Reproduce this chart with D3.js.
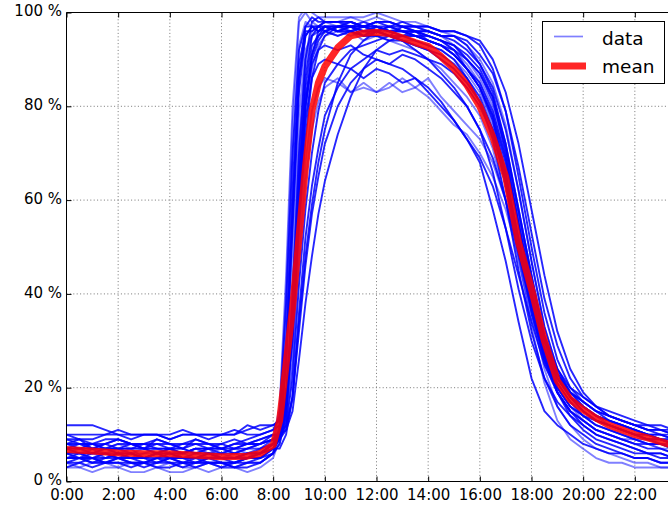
<!DOCTYPE html>
<html>
<head>
<meta charset="utf-8">
<script src="https://cdn.jsdelivr.net/npm/d3@7"></script>
<style>
html, body { margin: 0; padding: 0; background: #fff; }
svg { display: block; }
text { font-family: "DejaVu Sans", sans-serif; fill: #000; }
</style>
</head>
<body>
<svg id="chart" width="668" height="512"></svg>
<script>
// ---------- DATA ----------
// sample times (hours) for each daily profile
const hours = [0,0.5,1,1.5,2,2.5,3,3.5,4,4.5,5,5.5,6,6.5,7,7.5,8,
  8.25,8.5,8.75,9,9.25,9.5,9.75,10,
  10.5,11,11.5,12,12.5,13,13.5,14,14.5,15,15.5,16,16.5,17,17.5,18,18.5,19,19.5,20,20.5,21,21.5,22,22.5,23,23.5,24];

const day01 = [7,6,6,7,6,6,5,6,6,5,5,6,5,5,6,6,8, 10,26,56,86,97,99,98,98,
  98,97,97,98,97,97,96,96,95,95,93,89,83,72,58,44,30,22,18,16,14,13,12,11,10,9,8,8];
const day02 = [8,8,7,7,8,7,7,6,7,7,6,6,7,6,7,7,9, 16,44,80,99,101,100,99,99,
  99,99,98,99,98,97,97,96,95,93,90,86,80,69,54,40,28,21,17,15,13,12,11,10,10,9,9,8];
const day03 = [5,5,4,5,5,4,4,5,4,4,5,4,4,4,5,5,6, 8,14,32,60,80,91,95,97,
  97,97,97,96,97,96,96,95,94,92,88,84,77,66,51,37,26,19,15,13,11,10,9,8,7,7,6,6];
const day04 = [9,9,8,9,9,8,8,9,8,8,9,8,8,9,8,9,10, 10,12,18,32,46,57,65,72,
  80,85,88,90,89,91,90,88,86,83,80,75,69,60,49,38,28,22,18,16,14,13,12,11,10,10,9,9];
const day05 = [6,7,6,6,7,6,6,7,6,6,7,6,6,7,6,7,8, 9,13,26,50,68,79,84,86,
  85,83,85,83,84,86,84,82,79,76,74,70,65,58,48,37,27,20,16,14,12,11,10,9,8,8,7,7];
const day06 = [4,4,5,4,4,4,3,4,4,3,4,4,3,4,4,4,6, 12,30,62,89,96,96,97,97,
  96,97,96,96,95,94,92,90,87,84,80,75,66,54,41,30,22,17,14,12,10,9,8,7,6,6,5,5];
const day07 = [12,12,12,11,10,10,10,10,10,11,10,10,10,10,11,12,12, 13,18,30,54,73,86,92,95,
  97,96,97,97,96,96,95,94,93,91,88,84,78,68,55,42,31,24,20,18,16,15,14,13,12,12,11,11];
const day08 = [3,3,2,3,3,2,2,3,2,2,3,2,3,3,2,3,5, 9,18,42,72,90,96,97,98,
  97,98,97,97,96,97,96,95,94,92,89,85,78,65,50,36,24,16,12,9,7,6,5,4,4,3,3,3];
const day09 = [7,7,8,7,7,7,8,7,7,6,7,7,6,7,7,8,9, 9,11,18,34,48,59,68,75,
  85,91,94,96,95,97,96,96,95,94,92,89,84,75,62,47,33,24,19,16,14,13,12,11,10,10,9,9];
const day10 = [5,6,5,5,6,5,5,6,5,5,5,6,5,5,5,6,7, 9,15,32,58,77,86,89,90,
  89,88,86,88,87,85,86,83,80,77,73,69,63,54,44,34,25,19,15,12,10,9,8,7,6,6,5,5];
const day11 = [6,6,5,6,6,5,6,6,5,5,6,6,5,5,5,6,8, 13,34,68,93,98,97,97,98,
  98,99,99,100,99,98,98,97,96,95,93,90,85,76,62,47,33,24,19,16,14,12,11,10,9,8,8,7];
const day12 = [8,7,7,8,7,7,7,6,7,7,6,7,7,6,7,8,9, 9,12,22,42,58,70,79,85,
  89,92,93,94,95,94,93,92,90,88,85,81,75,65,52,40,29,22,18,15,13,12,11,10,9,9,8,8];
const day13 = [4,5,4,4,5,4,4,4,5,4,4,4,4,3,4,5,7, 11,25,54,83,95,97,97,96,
  97,97,96,97,96,96,95,95,94,93,91,88,82,70,55,40,27,19,14,11,9,8,7,6,6,5,5,5];
const day14 = [6,6,7,6,6,6,5,6,6,6,5,6,6,5,6,7,8, 9,13,24,46,64,75,81,84,
  86,83,84,83,85,83,84,86,82,79,76,73,68,60,49,37,26,19,15,13,11,10,9,8,8,7,7,6];
const day15 = [9,8,8,8,9,8,8,8,7,8,8,8,7,8,8,9,10, 10,11,15,26,38,48,57,64,
  74,82,88,92,94,95,95,94,93,91,88,85,79,69,55,41,30,23,19,17,15,14,13,12,11,11,10,10];
const day16 = [5,5,5,6,5,5,5,4,5,5,4,5,5,4,5,6,7, 9,17,40,70,90,98,99,98,
  98,98,97,98,98,97,97,97,96,96,95,93,88,79,65,50,36,26,20,17,15,13,12,11,10,9,8,8];
const day17 = [7,7,6,7,7,6,7,7,6,6,7,6,6,6,7,7,8, 9,14,30,56,76,88,93,95,
  96,95,96,95,95,94,94,93,92,90,87,83,76,65,51,38,27,20,16,14,12,11,10,9,9,8,8,7];
const day18 = [6,5,6,6,5,6,5,5,6,5,5,5,5,5,6,6,8, 10,16,34,60,80,89,92,93,
  92,93,91,90,89,88,86,84,81,77,73,68,58,47,34,22,15,12,10,8,7,6,6,5,5,4,4,4];
const day19 = [7,8,7,7,7,8,7,7,7,6,7,7,7,7,8,8,10, 9,16,36,65,86,95,97,98,
  98,98,97,98,98,97,97,97,96,96,95,94,90,83,72,58,44,32,24,19,16,14,13,12,11,10,10,9];
const day20 = [4,3,4,4,3,4,4,3,4,3,3,4,3,3,4,4,6, 8,16,38,68,88,95,96,97,
  96,96,97,96,96,95,95,94,93,91,88,84,77,64,48,33,21,13,9,7,5,4,4,3,3,3,3,3];
const day21 = [8,8,8,7,8,8,7,8,8,7,8,7,8,7,8,8,9, 10,17,36,64,84,93,95,96,
  95,96,95,95,94,94,93,92,91,89,86,82,75,63,49,36,26,20,16,14,13,12,11,10,10,9,9,8];
const day22 = [5,5,5,4,5,5,4,5,5,4,4,5,4,4,5,5,7, 7,10,18,36,52,63,71,78,
  84,88,90,92,91,92,91,90,89,87,84,80,74,64,51,39,28,21,17,14,12,11,10,9,8,8,7,7];
const day23 = [6,6,6,5,6,6,5,6,5,6,6,5,6,6,6,6,8, 15,40,76,98,100,98,97,97,
  97,97,97,97,96,96,95,94,93,91,88,84,78,67,52,38,27,20,16,13,11,10,9,9,8,8,7,7];
const day24 = [10,10,10,10,11,10,10,10,9,10,10,10,10,11,10,10,11, 12,18,34,60,80,91,96,97,
  97,97,98,97,97,96,96,95,94,93,90,87,81,71,57,43,31,23,19,17,15,14,13,12,12,11,11,10];
const day25 = [8,9,7,8,9,8,7,9,8,7,9,8,7,8,9,10,11, 14,38,70,92,97,97,96,97,
  96,97,95,97,96,95,96,94,93,92,90,87,82,72,58,44,31,23,18,15,13,12,11,10,9,9,8,8];
const day26 = [6,5,7,5,6,7,5,6,7,5,6,7,5,6,5,7,9, 11,24,50,78,92,95,96,96,
  95,96,94,95,94,93,92,90,88,85,82,78,71,60,47,35,25,19,15,13,11,10,9,8,8,7,6,6];
const day27 = [10,9,9,10,10,9,10,10,9,10,10,9,10,10,12,11,12, 13,20,36,62,82,90,94,96,
  97,98,97,96,97,98,97,96,95,95,94,91,87,79,67,53,39,29,22,18,16,14,13,12,11,11,10,10];
const day28 = [3,4,3,4,4,3,4,3,3,4,3,4,4,3,3,4,6, 10,26,58,86,95,97,96,97,
  96,96,95,96,95,95,94,93,92,90,86,81,73,60,45,32,22,16,12,10,8,7,6,5,5,4,4,4];

const dailySeries = [day01,day02,day03,day04,day05,day06,day07,day08,day09,day10,day11,day12,day13,day14,
  day15,day16,day17,day18,day19,day20,day21,day22,day23,day24,day25,day26,day27,day28];

const meanHours = [0,1,2,3,4,5,6,7,7.5,8,8.25,8.5,8.75,9,9.25,9.5,9.75,10,
  10.5,11,11.5,12,12.5,13,13.5,14,14.5,15,15.5,16,16.5,17,17.5,18,18.5,19,19.5,20,20.5,21,21.5,22,22.5,23,23.5,24];
const meanValues = [6.8,6.5,6.1,5.9,5.9,5.6,5.3,5.4,6.0,7.8,13,25,37,52,67,79,85,88.5,
  92.5,95,95.6,95.8,95.5,94.6,93.6,92.8,90.6,88,84.5,80,73.5,65,51,41,30,21.5,17.5,15.3,13.5,12,11,10,9.3,8.5,7.6,7];

const xTicks = [0,2,4,6,8,10,12,14,16,18,20,22];
const xTickLabels = ["0:00","2:00","4:00","6:00","8:00","10:00","12:00","14:00","16:00","18:00","20:00","22:00"];
const yTicks = [0,20,40,60,80,100];
const yTickLabels = ["0 %","20 %","40 %","60 %","80 %","100 %"];
const legendLabels = ["data","mean"];

// ---------- DRAW ----------
const svg = d3.select("#chart");
const L = 66.5, R = 686.5, T = 12.5, B = 481.5;
const x = d3.scaleLinear().domain([0,24]).range([L,R]);
const y = d3.scaleLinear().domain([0,100]).range([B,T]);

svg.append("defs").append("clipPath").attr("id","plotclip")
  .append("rect").attr("x",L).attr("y",T).attr("width",R-L).attr("height",B-T);

// grid
const grid = svg.append("g").attr("stroke","#444").attr("stroke-width",0.9)
  .attr("stroke-dasharray","1,2.4").attr("opacity",0.8);
grid.selectAll("line.gx").data(xTicks.filter(d => d > 0)).join("line")
  .attr("class","gx").attr("x1",d=>x(d)).attr("x2",d=>x(d)).attr("y1",T).attr("y2",B);
grid.selectAll("line.gy").data(yTicks.filter(d => d > 0 && d < 100)).join("line")
  .attr("class","gy").attr("x1",L).attr("x2",R).attr("y1",d=>y(d)).attr("y2",d=>y(d));

// data lines
const plot = svg.append("g").attr("clip-path","url(#plotclip)");
const line = d3.line().x((d,i)=>x(hours[i])).y(d=>y(d));
plot.selectAll("path.day").data(dailySeries).join("path")
  .attr("class","day")
  .attr("d", d => line(d))
  .attr("fill","none")
  .attr("stroke","#0000ff")
  .attr("stroke-width",1.9)
  .attr("stroke-linejoin","round")
  .attr("stroke-opacity",(d,i)=> (i % 3 === 1 ? 0.5 : 0.85));

// mean line
const meanLine = d3.line().x((d,i)=>x(meanHours[i])).y(d=>y(d));
plot.append("path").datum(meanValues)
  .attr("d", meanLine)
  .attr("fill","none")
  .attr("stroke","#ff0000")
  .attr("stroke-opacity",0.85)
  .attr("stroke-width",7)
  .attr("stroke-linejoin","round");

// frame
const frame = svg.append("g").attr("stroke","#000").attr("stroke-width",1);
frame.append("line").attr("x1",L).attr("x2",L).attr("y1",T).attr("y2",B);
frame.append("line").attr("x1",L).attr("x2",R).attr("y1",B).attr("y2",B);
frame.append("line").attr("x1",L).attr("x2",R).attr("y1",T).attr("y2",T);
frame.append("line").attr("x1",R).attr("x2",R).attr("y1",T).attr("y2",B);

// axes
const fontFam = "DejaVu Sans";
const xAxis = d3.axisBottom(x).tickValues(xTicks).tickFormat((d,i)=>xTickLabels[i])
  .tickSizeInner(-5).tickSizeOuter(0).tickPadding(8);
const gx = svg.append("g").attr("transform",`translate(0,${B})`).call(xAxis);
gx.select(".domain").remove();
gx.selectAll("text").attr("font-family",fontFam).attr("font-size",15).attr("fill","#000");
gx.selectAll("line").attr("stroke","#000");

const xTop = d3.axisTop(x).tickValues(xTicks).tickFormat("").tickSizeInner(-5).tickSizeOuter(0);
const gt = svg.append("g").attr("transform",`translate(0,${T})`).call(xTop);
gt.select(".domain").remove();
gt.selectAll("line").attr("stroke","#000");

const yAxis = d3.axisLeft(y).tickValues(yTicks).tickFormat((d,i)=>yTickLabels[i])
  .tickSizeInner(-5).tickSizeOuter(0).tickPadding(4.5);
const gy = svg.append("g").attr("transform",`translate(${L},0)`).call(yAxis);
gy.select(".domain").remove();
gy.selectAll("text").attr("font-family",fontFam).attr("font-size",15).attr("fill","#000")
  .attr("dy","0.22em");
gy.selectAll("line").attr("stroke","#000");

// legend
const lg = svg.append("g");
lg.append("rect").attr("x",542.5).attr("y",21.5).attr("width",122).attr("height",62)
  .attr("fill","#fff").attr("stroke","#000").attr("stroke-width",1);
lg.append("line").attr("x1",554).attr("x2",583).attr("y1",36.5).attr("y2",36.5)
  .attr("stroke","#0000ff").attr("stroke-opacity",0.5).attr("stroke-width",1.7);
lg.append("line").attr("x1",551).attr("x2",586).attr("y1",66).attr("y2",66)
  .attr("stroke","#ff0000").attr("stroke-opacity",0.85).attr("stroke-width",7);
lg.append("text").attr("x",602).attr("y",44.5).attr("font-size",18.5).attr("font-family",fontFam).text(legendLabels[0]);
lg.append("text").attr("x",602).attr("y",73).attr("font-size",18.5).attr("font-family",fontFam).text(legendLabels[1]);
</script>
</body>
</html>
